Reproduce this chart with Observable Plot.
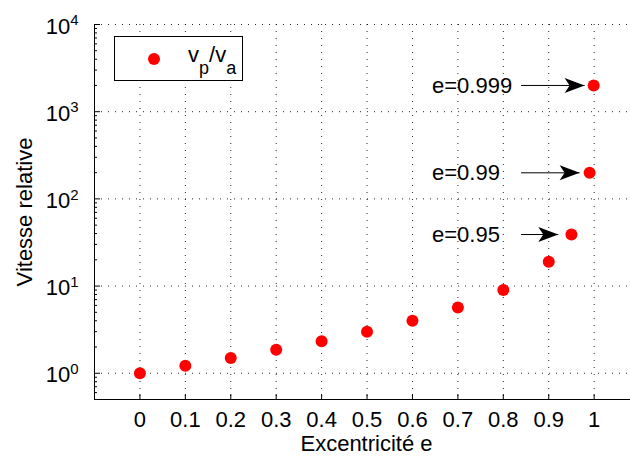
<!DOCTYPE html>
<html>
<head>
<meta charset="utf-8">
<script src="https://cdn.jsdelivr.net/npm/d3@7"></script>
<script src="https://cdn.jsdelivr.net/npm/@observablehq/plot@0.6"></script>
<style>
  body { margin: 0; background: #fff; }
  #wrap { position: relative; width: 630px; height: 456px; font-family: "Liberation Sans", Arial, sans-serif; overflow: hidden; }
  #wrap svg { position: absolute; left: 0; top: 0; }
  #legend { position: absolute; left: 114px; top: 36px; width: 129px; height: 45px; box-sizing: border-box; border: 1px solid #000; background: #fff; }
  #ldot { position: absolute; left: 148px; top: 53px; width: 12px; height: 12px; border-radius: 50%; background: #ff0000; }
  #ltext { position: absolute; left: 188px; top: 44px; font-size: 22px; line-height: 22px; white-space: nowrap; color: #000; }
  #ltext .sub { position: relative; top: 12px; font-size: 18px; }
</style>
</head>
<body>
<div id="wrap"></div>
<script>
// ---- data ----
const eccentricity = [0, 0.1, 0.2, 0.3, 0.4, 0.5, 0.6, 0.7, 0.8, 0.9, 0.95, 0.99, 0.999];
const speedRatio   = [1, 1.22, 1.5, 1.86, 2.33, 3, 4, 5.67, 9, 19, 39, 199, 1999];

const xTicks = [0, 0.1, 0.2, 0.3, 0.4, 0.5, 0.6, 0.7, 0.8, 0.9, 1];
const xTickLabels = ["0", "0.1", "0.2", "0.3", "0.4", "0.5", "0.6", "0.7", "0.8", "0.9", "1"];
const yTicks = [1, 10, 100, 1000, 10000];
const yTickExponents = ["0", "1", "2", "3", "4"];
const yMinorTicks = [0.5, 0.6, 0.7, 0.8, 0.9,
  2, 3, 4, 5, 6, 7, 8, 9,
  20, 30, 40, 50, 60, 70, 80, 90,
  200, 300, 400, 500, 600, 700, 800, 900,
  2000, 3000, 4000, 5000, 6000, 7000, 8000, 9000];
const xDomain = [-0.1, 1.08];
const yDomain = [0.5, 10000];

const annotationLabels = ["e=0.999", "e=0.99", "e=0.95"];
const annotationY      = [1999, 199, 39];
const annotationTextX  = [0.643, 0.643, 0.643];
const arrowStartX      = [0.839, 0.839, 0.839];
const arrowEndX        = [0.979, 0.968, 0.921];

const xLabel = "Excentricité e";
const yLabel = "Vitesse relative";

// ---- build ----
const points = eccentricity.map((e, i) => ({e, r: speedRatio[i]}));
const annos = annotationLabels.map((t, i) => ({t, y: annotationY[i], tx: annotationTextX[i], x1: arrowStartX[i], x2: arrowEndX[i]}));

const arrowHead = {
  draw(ctx) {
    ctx.moveTo(0, 0);
    ctx.lineTo(-20, -7.5);
    ctx.lineTo(-15, 0);
    ctx.lineTo(-20, 7.5);
    ctx.closePath();
  }
};

const grid = {stroke: "#000", strokeOpacity: 0.85, strokeDasharray: "1,6", strokeWidth: 1};

const plot = Plot.plot({
  width: 630,
  height: 456,
  marginLeft: 94,
  marginRight: 0,
  marginTop: 24,
  marginBottom: 57,
  style: {fontFamily: "'Liberation Sans', Arial, sans-serif", fontSize: "22px", background: "white", color: "black", overflow: "visible"},
  x: {domain: xDomain},
  y: {type: "log", domain: yDomain},
  marks: [
    Plot.gridX(xTicks, grid),
    Plot.gridY(yTicks, grid),
    Plot.ruleX([xDomain[0]], {stroke: "#000", strokeWidth: 1}),
    Plot.ruleY([yDomain[0]], {stroke: "#000", strokeWidth: 1}),
    Plot.axisX(xTicks, {tickSize: 0, tickPadding: 12, fontSize: 22, tickFormat: d => xTickLabels[xTicks.indexOf(d)], label: null}),
    Plot.axisX(xTicks, {tickSize: -5, tickFormat: () => "", label: null}),
    Plot.axisY(yTicks, {tickSize: 0, tickPadding: 16, dy: 2, fontSize: 22, tickFormat: d => "10^" + yTickExponents[yTicks.indexOf(d)], label: null}),
    Plot.axisY(yTicks, {tickSize: -6, tickFormat: () => "", label: null}),
    Plot.axisY(yMinorTicks, {tickSize: -3, tickFormat: () => "", label: null}),
    Plot.dot(points, {x: "e", y: "r", r: 6, fill: "#ff0000"}),
    Plot.link(annos, {x1: "x1", x2: "x2", y1: "y", y2: "y", stroke: "#000", strokeWidth: 1}),
    Plot.dot(annos, {x: "x2", y: "y", symbol: arrowHead, r: 8, fill: "#000", stroke: "none"}),
    Plot.text(annos, {x: "tx", y: "y", text: "t", textAnchor: "start", fontSize: 22, fill: "#000"}),
    Plot.text([xLabel], {frameAnchor: "bottom", textAnchor: "middle", lineAnchor: "middle", text: d => d, dy: 44, dx: 4, fontSize: 22, fill: "#000"}),
    Plot.text([yLabel], {frameAnchor: "left", textAnchor: "middle", lineAnchor: "middle", text: d => d, rotate: -90, dx: -70, fontSize: 22, fill: "#000"})
  ]
});

// superscript exponents on the log-axis tick labels
plot.querySelectorAll('g[aria-label="y-axis tick label"] text').forEach(t => {
  const s = t.textContent;
  if (!s.includes("^")) return;
  const [base, exp] = s.split("^");
  t.textContent = base;
  const ts = document.createElementNS("http://www.w3.org/2000/svg", "tspan");
  ts.setAttribute("dy", "-8.4");
  ts.setAttribute("font-size", "15");
  ts.textContent = exp;
  t.appendChild(ts);
});

const wrap = document.getElementById("wrap");
wrap.appendChild(plot);

const legend = document.createElement("div");
legend.id = "legend";
wrap.appendChild(legend);
const ldot = document.createElement("div");
ldot.id = "ldot";
wrap.appendChild(ldot);
const ltext = document.createElement("div");
ltext.id = "ltext";
ltext.innerHTML = 'v<span class="sub">p</span>/v<span class="sub">a</span>';
wrap.appendChild(ltext);
</script>
</body>
</html>
